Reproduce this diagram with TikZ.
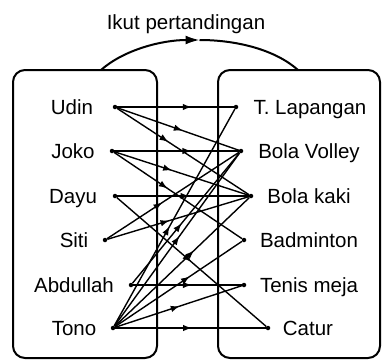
\documentclass[tikz,border=0pt]{standalone}
\usepackage{fontspec}
\setmainfont{Liberation Sans}
\usetikzlibrary{arrows.meta,decorations.markings}
\begin{document}
\begin{tikzpicture}[x=1pt,y=-1pt,
  dot/.style={circle,fill=black,inner sep=0pt,minimum size=4.5pt},
  lbl/.style={font=\fontsize{20.5pt}{24pt}\selectfont,inner sep=0pt,anchor=base},
  frame/.style={draw=black,line width=2pt,rounded corners=12pt,outer sep=0pt,inner sep=0pt},
  edge/.style={line width=1.4pt},
  midarrow/.style={postaction={decorate},decoration={markings,mark=at position #1 with {\arrow{Latex[length=9pt,width=6.5pt]}}}},
]
\useasboundingbox (0,0) rectangle (382,361);
% frames
\node[frame,minimum width=144pt,minimum height=288pt] (lbox) at (85,214) {};
\node[frame,minimum width=162pt,minimum height=288pt] (rbox) at (299,214) {};
% relation arc (split in two halves, arrow at the middle)
\coordinate (arcL) at (101,70);
\coordinate (arcM) at (199.5,40);
\coordinate (arcR) at (298,70);
\draw[line width=2pt,-{Latex[length=14pt,width=9pt]}] (arcL) .. controls (123.5,50) and (161.5,40) .. (arcM);
\draw[line width=2pt] (arcM) .. controls (237.5,40) and (275.5,50) .. (arcR);
\node[lbl] (title) at (186,30) {Ikut pertandingan};
% left dots
\node[dot] (u) at (115,107) {};
\node[dot] (j) at (112,151) {};
\node[dot] (d) at (115,196) {};
\node[dot] (s) at (105,240) {};
\node[dot] (a) at (131,285) {};
\node[dot] (t) at (113,328) {};
% right dots
\node[dot] (tl) at (236,107) {};
\node[dot] (bv) at (241,151) {};
\node[dot] (bk) at (251,196) {};
\node[dot] (bd) at (244,240) {};
\node[dot] (tm) at (244,285) {};
\node[dot] (ct) at (268,328) {};
% left labels
\node[lbl] (Lu) at (72,114.5) {Udin};
\node[lbl] (Lj) at (73,158.5) {Joko};
\node[lbl] (Ld) at (73,203.5) {Dayu};
\node[lbl] (Ls) at (74,247.5) {Siti};
\node[lbl] (La) at (74,292.5) {Abdullah};
\node[lbl] (Lt) at (74,335.5) {Tono};
% right labels
\node[lbl] (Rtl) at (310,114.5) {T. Lapangan};
\node[lbl] (Rbv) at (309,158.5) {Bola Volley};
\node[lbl] (Rbk) at (309,203.5) {Bola kaki};
\node[lbl] (Rbd) at (309,247.5) {Badminton};
\node[lbl] (Rtm) at (309,292.5) {Tenis meja};
\node[lbl] (Rct) at (308,335.5) {Catur};
% edges
\draw[edge,midarrow=0.64] (u) -- (tl);
\draw[edge,midarrow=0.54] (u) -- (bv);
\draw[edge,midarrow=0.39] (u) -- (bk);
\draw[edge,midarrow=0.62] (j) -- (bv);
\draw[edge,midarrow=0.43] (j) -- (bk);
\draw[edge,midarrow=0.42] (j) -- (bd);
\draw[edge,midarrow=0.55] (d) -- (bk);
\draw[edge,midarrow=0.5] (d) -- (ct);
\draw[edge,midarrow=0.42] (s) -- (bv);
\draw[edge,midarrow=0.44] (s) -- (bk);
\draw[edge,midarrow=0.54] (a) -- (tm);
\draw[edge,midarrow=0.46] (a) -- (bv);
\draw[edge,midarrow=0.51] (t) -- (ct);
\draw[edge,midarrow=0.51] (t) -- (tm);
\draw[edge,midarrow=0.59] (t) -- (bd);
\draw[edge,midarrow=0.59] (t) -- (bk);
\draw[edge,midarrow=0.52] (t) -- (bv);
\draw[edge,midarrow=0.46] (t) -- (tl);
\end{tikzpicture}
\end{document}
